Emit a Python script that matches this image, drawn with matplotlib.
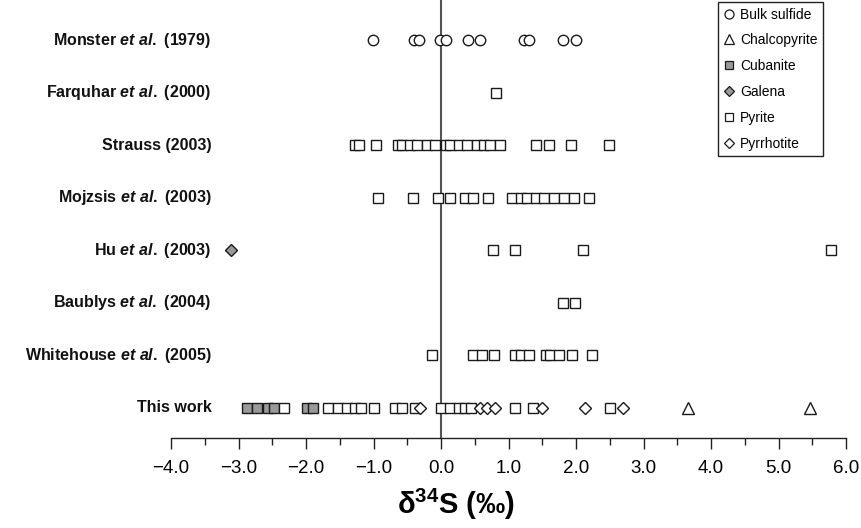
import matplotlib
matplotlib.use("Agg")
import matplotlib.pyplot as plt
from matplotlib.lines import Line2D
import numpy as np

plt.rcParams['font.family'] = ['Liberation Sans', 'DejaVu Sans']
plt.rcParams['mathtext.fontset'] = 'custom'
plt.rcParams['mathtext.rm'] = 'Liberation Sans:bold'
plt.rcParams['mathtext.bf'] = 'Liberation Sans:bold'
plt.rcParams['mathtext.it'] = 'Liberation Sans:bold:italic'

# ---------------- data ----------------
studies = [
    r"Monster $\mathit{et\ al.}$ (1979)",
    r"Farquhar $\mathit{et\ al.}$ (2000)",
    "Strauss (2003)",
    r"Mojzsis $\mathit{et\ al.}$ (2003)",
    r"Hu $\mathit{et\ al.}$ (2003)",
    r"Baublys $\mathit{et\ al.}$ (2004)",
    r"Whitehouse $\mathit{et\ al.}$ (2005)",
    "This work",
]

monster_bulk = [-1.01, -0.40, -0.32, -0.01, 0.08, 0.40, 0.58, 1.23, 1.30, 1.81, 2.00]
farquhar_pyrite = [0.82]
strauss_pyrite = [-1.27, -1.21, -0.97, -0.64, -0.58, -0.46, -0.36, -0.21, -0.09, 0.08,
                  0.14, 0.26, 0.38, 0.53, 0.63, 0.73, 0.88, 1.40, 1.60, 1.92, 2.49]
mojzsis_pyrite = [-0.93, -0.41, -0.05, 0.14, 0.36, 0.47, 0.70, 1.05, 1.18, 1.28,
                  1.40, 1.52, 1.67, 1.82, 1.97, 2.19]
hu_galena = [-3.11]
hu_pyrite = [0.77, 1.10, 2.10, 5.78]
baublys_pyrite = [1.81, 1.98]
whitehouse_pyrite = [-0.14, 0.48, 0.60, 0.78, 1.10, 1.18, 1.30, 1.55, 1.62, 1.75, 1.94, 2.24]
thiswork_cubanite = [-2.87, -2.72, -2.57, -2.47, -1.99, -1.90]
thiswork_pyrite = [-2.32, -1.67, -1.53, -1.40, -1.28, -1.19, -0.99, -0.68, -0.58, -0.39,
                   0.0, 0.13, 0.26, 0.36, 0.45, 1.10, 1.37, 2.51]
thiswork_pyrrhotite = [-0.31, 0.58, 0.68, 0.80, 1.50, 2.14, 2.69]
thiswork_chalcopyrite = [3.66, 5.46]

xticks = [-4, -3, -2, -1, 0, 1, 2, 3, 4, 5, 6]
xticklabels = ["\u22124.0", "\u22123.0", "\u22122.0", "\u22121.0", "0.0", "1.0",
               "2.0", "3.0", "4.0", "5.0", "6.0"]

# ---------------- figure ----------------
W, H = 861, 528
fig = plt.figure(figsize=(W / 100, H / 100), dpi=100)
ax = fig.add_axes([171 / W, 90 / H, 675 / W, 438 / H])

n = len(studies)
ypos = {name: n - 1 - i for i, name in enumerate(studies)}

ec = '#1a1a1a'
styles = {
    'bulk': dict(marker='o', ms=7.5, mfc='white'),
    'chalco': dict(marker='^', ms=8.5, mfc='white'),
    'cub': dict(marker='s', ms=7.2, mfc='#999999'),
    'gal': dict(marker='D', ms=6.0, mfc='#999999'),
    'pyr': dict(marker='s', ms=7.2, mfc='white'),
    'pyrrh': dict(marker='D', ms=6.0, mfc='white'),
}

def plot(vals, study, key):
    ax.plot(vals, [ypos[study]] * len(vals), ls='none', mec=ec, mew=1.0,
            zorder=3, **styles[key])

ax.axvline(0, color='#555555', lw=1.5, zorder=1)

plot(monster_bulk, studies[0], 'bulk')
plot(farquhar_pyrite, studies[1], 'pyr')
plot(strauss_pyrite, studies[2], 'pyr')
plot(mojzsis_pyrite, studies[3], 'pyr')
plot(hu_galena, studies[4], 'gal')
plot(hu_pyrite, studies[4], 'pyr')
plot(baublys_pyrite, studies[5], 'pyr')
plot(whitehouse_pyrite, studies[6], 'pyr')
plot(thiswork_cubanite, studies[7], 'cub')
plot(thiswork_pyrite, studies[7], 'pyr')
plot(thiswork_pyrrhotite, studies[7], 'pyrrh')
plot(thiswork_chalcopyrite, studies[7], 'chalco')

ax.set_xlim(-4, 6)
ax.set_ylim(-(438 - 408) / 52.57, (n - 1) + 40 / 52.57)

for s in ['top', 'right', 'left']:
    ax.spines[s].set_visible(False)
ax.spines['bottom'].set_linewidth(1.0)
ax.spines['bottom'].set_color('#222222')

ax.set_yticks([])
ax.set_xticks(xticks)
ax.set_xticklabels(xticklabels, fontsize=13.5,
                   family=['Liberation Sans Narrow', 'Liberation Sans'])
ax.set_xticks(np.arange(-4, 6.01, 0.5), minor=True)
ax.tick_params(axis='x', which='major', direction='out', length=8, width=1.0,
               color='#222222', pad=8)
ax.tick_params(axis='x', which='minor', direction='out', length=5, width=1.0,
               color='#222222')

for name in studies:
    ax.text(-3.40, ypos[name], name, ha='right', va='center', fontsize=11.5,
            fontweight='bold', color='#111111')

fig.text(456 / W, 24 / H, "\u03b4$^{34}$S (\u2030)", ha='center', va='center',
         fontsize=21, fontweight='bold')

handles = [
    Line2D([], [], ls='none', mec=ec, mew=0.9, **{**styles['bulk'], 'ms': 6.5}),
    Line2D([], [], ls='none', mec=ec, mew=0.9, **{**styles['chalco'], 'ms': 7}),
    Line2D([], [], ls='none', mec=ec, mew=0.9, **{**styles['cub'], 'ms': 6}),
    Line2D([], [], ls='none', mec=ec, mew=0.9, **{**styles['gal'], 'ms': 5}),
    Line2D([], [], ls='none', mec=ec, mew=0.9, **{**styles['pyr'], 'ms': 6}),
    Line2D([], [], ls='none', mec=ec, mew=0.9, **{**styles['pyrrh'], 'ms': 5}),
]
labels = ["Bulk sulfide", "Chalcopyrite", "Cubanite", "Galena", "Pyrite", "Pyrrhotite"]
leg = fig.legend(handles, labels, loc='upper right',
                 bbox_to_anchor=(823 / W, 1 - 2 / H), bbox_transform=fig.transFigure,
                 fontsize=10, frameon=True, fancybox=False, framealpha=1,
                 edgecolor='#222222', handlelength=0.7, handletextpad=0.45,
                 labelspacing=0.85, borderpad=0.4, borderaxespad=0)
leg.get_frame().set_linewidth(1.0)

fig.savefig("out.png", dpi=100)
